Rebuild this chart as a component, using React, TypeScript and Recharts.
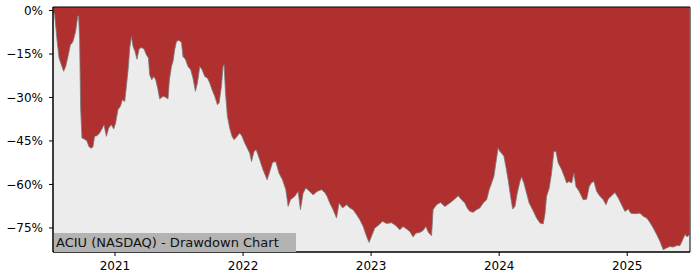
import React from "react";
import {
  AreaChart,
  Area,
  XAxis,
  YAxis,
  CartesianGrid,
  ReferenceArea,
} from "recharts";

if (typeof document !== "undefined") document.body.style.margin = "0";

// --- Drawdown series (time as decimal years, drawdown in %) ---
const years = [
  2020.521, 2020.529, 2020.547, 2020.563, 2020.581, 2020.599, 2020.615, 2020.633,
  2020.652, 2020.667, 2020.677, 2020.693, 2020.709, 2020.716, 2020.724, 2020.732,
  2020.742, 2020.763, 2020.781, 2020.797, 2020.816, 2020.828, 2020.841, 2020.859,
  2020.88, 2020.902, 2020.914, 2020.933, 2020.951, 2020.972, 2020.99, 2021.005,
  2021.023, 2021.042, 2021.058, 2021.076, 2021.089, 2021.105, 2021.115, 2021.128,
  2021.141, 2021.156, 2021.172, 2021.188, 2021.206, 2021.227, 2021.245, 2021.261,
  2021.271, 2021.287, 2021.302, 2021.318, 2021.336, 2021.349, 2021.375, 2021.394,
  2021.414, 2021.425, 2021.441, 2021.453, 2021.466, 2021.48, 2021.498, 2021.519,
  2021.531, 2021.55, 2021.57, 2021.591, 2021.609, 2021.628, 2021.644, 2021.662,
  2021.68, 2021.701, 2021.722, 2021.74, 2021.758, 2021.779, 2021.8, 2021.813,
  2021.831, 2021.844, 2021.852, 2021.863, 2021.878, 2021.896, 2021.914, 2021.93,
  2021.948, 2021.974, 2021.992, 2022.013, 2022.039, 2022.052, 2022.066, 2022.086,
  2022.102, 2022.117, 2022.13, 2022.156, 2022.188, 2022.209, 2022.23, 2022.255,
  2022.281, 2022.308, 2022.334, 2022.352, 2022.37, 2022.404, 2022.43, 2022.448,
  2022.469, 2022.49, 2022.521, 2022.547, 2022.578, 2022.613, 2022.638, 2022.656,
  2022.677, 2022.703, 2022.73, 2022.75, 2022.777, 2022.808, 2022.834, 2022.859,
  2022.886, 2022.912, 2022.938, 2022.964, 2022.984, 2023.003, 2023.029, 2023.055,
  2023.089, 2023.12, 2023.159, 2023.193, 2023.224, 2023.25, 2023.277, 2023.302,
  2023.328, 2023.349, 2023.38, 2023.406, 2023.427, 2023.448, 2023.472, 2023.484,
  2023.511, 2023.542, 2023.576, 2023.615, 2023.646, 2023.68, 2023.706, 2023.732,
  2023.75, 2023.771, 2023.797, 2023.823, 2023.849, 2023.875, 2023.902, 2023.922,
  2023.941, 2023.959, 2023.974, 2023.992, 2024.005, 2024.019, 2024.037, 2024.052,
  2024.07, 2024.089, 2024.105, 2024.123, 2024.141, 2024.162, 2024.175, 2024.193,
  2024.214, 2024.234, 2024.261, 2024.292, 2024.318, 2024.344, 2024.357, 2024.37,
  2024.391, 2024.409, 2024.427, 2024.443, 2024.461, 2024.488, 2024.508, 2024.527,
  2024.545, 2024.566, 2024.584, 2024.599, 2024.625, 2024.656, 2024.683, 2024.703,
  2024.722, 2024.74, 2024.761, 2024.787, 2024.813, 2024.834, 2024.852, 2024.878,
  2024.904, 2024.93, 2024.956, 2024.982, 2025.008, 2025.027, 2025.06, 2025.099,
  2025.125, 2025.152, 2025.177, 2025.203, 2025.23, 2025.255, 2025.281, 2025.307,
  2025.333, 2025.359, 2025.386, 2025.412, 2025.433, 2025.451, 2025.469, 2025.484,
];

const drawdown = [
  -0.5, -1.5, -10, -16.3, -18.7, -21, -19.3, -15.9,
  -11.8, -11.2, -9.9, -7.2, -2, -1.8, -10, -34,
  -44, -44.4, -45, -47, -47.5, -47, -43.4, -43.2,
  -42.3, -40.5, -39.4, -43.4, -40.5, -39.4, -40.9, -38.8,
  -34.2, -33.1, -30.8, -31.4, -26.2, -19.3, -13, -9,
  -12.4, -14.1, -16.8, -13.3, -12.8, -13.3, -15.3, -16.4,
  -22.2, -23.9, -22.8, -23.9, -27.3, -30.5, -29.6, -29.9,
  -30.5, -23.9, -19.3, -17.6, -13.6, -10.7, -10.3, -11,
  -15.9, -16.8, -19.3, -20.4, -23.3, -27.9, -25, -19.3,
  -20.4, -22.8, -23.3, -25, -27.3, -29.6, -32.5, -31.9,
  -26.2, -19.3, -18.7, -28.5, -36.6, -40.6, -43.4, -44.6,
  -43.7, -42.3, -43.4, -45.7, -48, -49.2, -52.1, -48.6,
  -48, -49.8, -51.5, -54.9, -58.4, -55.5, -52.4, -52.1,
  -56.1, -58.4, -61.8, -67.6, -65.3, -64.1, -62.4, -68.7,
  -63, -61.2, -62.4, -63.6, -62.4, -61.8, -62.8, -64.1,
  -66.4, -68.7, -71.6, -66.4, -68.1, -67, -68.1, -68.7,
  -70.4, -72.2, -74.5, -77.9, -80, -77.9, -75, -74.2,
  -72.7, -73.5, -73.2, -74.2, -75.6, -74.5, -75.4, -76.2,
  -78.1, -76.8, -76.6, -75.9, -74.5, -76.6, -77.7, -68.7,
  -67, -66.2, -67.6, -66.4, -65.3, -63.9, -65.3, -66.4,
  -68.1, -69.3, -69.6, -68.7, -68.1, -66.4, -65.3, -61.8,
  -59.5, -57.2, -52.6, -47.4, -48.6, -49.2, -50.3, -53.8,
  -58.4, -64.1, -68.5, -67.6, -63, -59, -57.4, -59.5,
  -63, -66.4, -68.7, -71.6, -73.3, -73.6, -70.4, -64.1,
  -61.2, -56.1, -48.6, -48.6, -52.6, -54.9, -57.2, -59.5,
  -59, -59.5, -56.1, -60.7, -62.4, -65.3, -65.1, -60.7,
  -59.3, -59, -62.4, -64.1, -65.3, -67, -65, -63.9,
  -62.8, -64.7, -67, -69.3, -68.5, -69.9, -70.1, -69.9,
  -71, -71.6, -73.1, -75, -77.3, -79.6, -82.5, -81.9,
  -81.4, -81.6, -81.1, -81.1, -79.1, -77.3, -78.1, -77.3,
];

const yearTicks = [2021, 2022, 2023, 2024, 2025];
const pctTicks = [0, -15, -30, -45, -60, -75];
const xDomain = [2020.516, 2025.49];
const yDomain = [-83.3, 1.2];

const data = years.map((t, i) => ({ t, dd: drawdown[i] }));

const fmtPct = (v: number) => (v === 0 ? "0%" : `\u2212${Math.abs(v)}%`);

const font = "DejaVu Sans, sans-serif";

export default function App() {
  return (
    <div style={{ position: "relative", width: 700, height: 280, background: "#fff" }}>
      <AreaChart
        width={700}
        height={280}
        data={data}
        margin={{ top: 7, right: 10, left: 0, bottom: 0 }}
      >
        <CartesianGrid horizontal={false} vertical={false} fill="#ececec" />
        <XAxis
          dataKey="t"
          type="number"
          domain={xDomain}
          ticks={yearTicks}
          tickFormatter={(v) => String(v)}
          allowDataOverflow
          height={28}
          tickSize={4}
          tickMargin={5}
          tick={{ fill: "#000", fontSize: 12, fontFamily: font }}
          axisLine={{ stroke: "#000" }}
          tickLine={{ stroke: "#000" }}
        />
        <YAxis
          type="number"
          domain={yDomain}
          ticks={pctTicks}
          tickFormatter={fmtPct}
          allowDataOverflow
          width={53}
          tickSize={4}
          tickMargin={6}
          tick={{ fill: "#000", fontSize: 12, fontFamily: font }}
          axisLine={{ stroke: "#000" }}
          tickLine={{ stroke: "#000" }}
        />
        <Area
          type="linear"
          dataKey="dd"
          baseValue={yDomain[1]}
          stroke="#7a7a7a"
          strokeWidth={0.8}
          fill="#b03030"
          fillOpacity={1}
          isAnimationActive={false}
          dot={false}
          activeDot={false}
        />
        <ReferenceArea
          x1={xDomain[0]}
          x2={xDomain[1]}
          y1={yDomain[0]}
          y2={yDomain[1]}
          fill="none"
          fillOpacity={0}
          stroke="#000"
          strokeOpacity={1}
        />
      </AreaChart>
      <div
        style={{
          position: "absolute",
          left: 54,
          top: 233,
          width: 242,
          height: 19,
          background: "#b3b3b3",
          fontFamily: font,
          fontSize: 13,
          lineHeight: "19px",
          color: "#111",
          paddingLeft: 2,
          boxSizing: "border-box",
          whiteSpace: "nowrap",
        }}
      >
        ACIU (NASDAQ) - Drawdown Chart
      </div>
    </div>
  );
}
